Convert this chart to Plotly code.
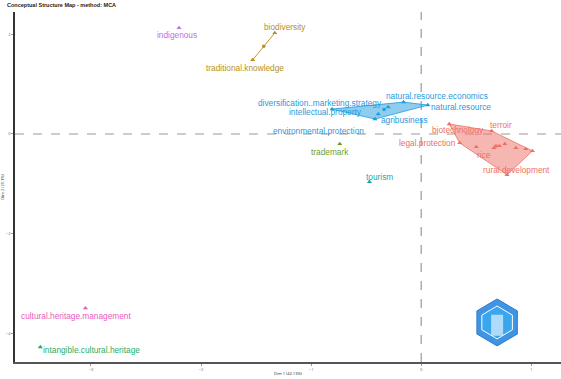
import plotly.graph_objects as go

# ---------------- data ----------------
words = [
    "diversification..marketing.strategy", "natural.resource.economics", "natural.resource",
    "agribusiness", "intellectual.property", "environmental.protection",
    "biotechnology", "terroir", "legal.protection", "rice", "rural.development",
    "", "", "", "", "", "",
    "biodiversity", "traditional.knowledge",
    "indigenous", "trademark", "tourism",
    "cultural.heritage.management", "intangible.cultural.heritage",
]
dim1 = [-0.81, -0.16, 0.06, -0.42, -0.30, -0.39,
        0.255, 0.64, 0.35, 0.50, 0.78,
        0.66, 0.71, 0.76, 0.86, 0.95, 1.01,
        -1.33, -1.53,
        -2.20, -0.74, -0.47,
        -3.05, -3.46]
dim2 = [0.50, 0.64, 0.58, 0.30, 0.54, 0.40,
        0.20, 0.06, -0.18, -0.26, -0.82,
        -0.28, -0.24, -0.20, -0.28, -0.30, -0.34,
        2.03, 1.49,
        2.13, -0.20, -0.96,
        -3.50, -4.28]
cluster = [1, 1, 1, 1, 1, 1,
           2, 2, 2, 2, 2, 2, 2, 2, 2, 2, 2,
           3, 3,
           4, 5, 6,
           7, 8]

x_ticks = [-3, -2, -1, 0, 1]
y_ticks = [-4, -2, 0, 2]
title = "Conceptual Structure Map - method: MCA"
x_title = "Dim 1 (42.13%)"
y_title = "Dim 2 (21.1%)"

# ---------------- styles ----------------
cluster_colors = {1: "#1F9BE0", 2: "#EE6F66", 3: "#B8901A", 4: "#B86FEA",
                  5: "#6FA01A", 6: "#17A9AC", 7: "#E85BBE", 8: "#1FAE66"}
# label offsets in pixels (dx right, dy down)
label_offsets = {
    "diversification..marketing.strategy": (-12, -6),
    "natural.resource.economics": (33, -6),
    "natural.resource": (33, 2),
    "agribusiness": (30, 1),
    "intellectual.property": (-63, 5),
    "environmental.protection": (-60, 17),
    "biotechnology": (9, 6),
    "terroir": (9, -6),
    "legal.protection": (-32, 0),
    "rice": (8, 8),
    "rural.development": (9, -5),
    "biodiversity": (10, -6),
    "traditional.knowledge": (-8, 8),
    "indigenous": (-2, 7),
    "trademark": (-10, 8),
    "tourism": (10, -5),
    "cultural.heritage.management": (-9, 8),
    "intangible.cultural.heritage": (51, 3),
}


def hex_rgba(h, a):
    h = h.lstrip("#")
    return "rgba(%d,%d,%d,%s)" % (int(h[0:2], 16), int(h[2:4], 16), int(h[4:6], 16), a)


def convex_hull(pts):
    pts = sorted(set(pts))
    if len(pts) <= 2:
        return pts
    def cross(o, a, b):
        return (a[0]-o[0])*(b[1]-o[1]) - (a[1]-o[1])*(b[0]-o[0])
    lower, upper = [], []
    for p in pts:
        while len(lower) >= 2 and cross(lower[-2], lower[-1], p) <= 0:
            lower.pop()
        lower.append(p)
    for p in reversed(pts):
        while len(upper) >= 2 and cross(upper[-2], upper[-1], p) <= 0:
            upper.pop()
        upper.append(p)
    return lower[:-1] + upper[:-1]


fig = go.Figure()

# reference lines
fig.add_hline(y=0, line=dict(color="#9a9a9a", width=1.2, dash="dash"), layer="below")
fig.add_vline(x=0, line=dict(color="#9a9a9a", width=1.2, dash="dash"), layer="below")

for c in sorted(set(cluster)):
    col = cluster_colors[c]
    xs = [dim1[i] for i in range(len(words)) if cluster[i] == c]
    ys = [dim2[i] for i in range(len(words)) if cluster[i] == c]
    hull = convex_hull(list(zip(xs, ys)))
    if len(hull) >= 3:
        hx = [p[0] for p in hull] + [hull[0][0]]
        hy = [p[1] for p in hull] + [hull[0][1]]
        fig.add_trace(go.Scatter(x=hx, y=hy, mode="lines", fill="toself",
                                 fillcolor=hex_rgba(col, 0.5),
                                 line=dict(color=col, width=0.8),
                                 hoverinfo="skip", showlegend=False))
    elif len(hull) == 2:
        fig.add_trace(go.Scatter(x=[p[0] for p in hull], y=[p[1] for p in hull],
                                 mode="lines", line=dict(color=col, width=0.9),
                                 hoverinfo="skip", showlegend=False))
    fig.add_trace(go.Scatter(x=xs, y=ys, mode="markers",
                             marker=dict(symbol="triangle-up", size=4.5, color=col),
                             showlegend=False))
    if len(xs) > 1:
        fig.add_trace(go.Scatter(x=[sum(xs)/len(xs)], y=[sum(ys)/len(ys)], mode="markers",
                                 marker=dict(symbol="circle", size=3.5, color=col),
                                 showlegend=False))

for i, w in enumerate(words):
    if not w:
        continue
    col = cluster_colors[cluster[i]]
    dx, dy = label_offsets[w]
    fig.add_annotation(x=dim1[i], y=dim2[i], xshift=dx, yshift=-dy, text=w,
                       showarrow=False,
                       font=dict(family="Liberation Sans, Arial", size=8.3, color=col))

# title
fig.add_annotation(xref="paper", yref="paper", x=-0.018, y=1.005, xanchor="left", yanchor="bottom",
                   text="<b>" + title + "</b>", showarrow=False,
                   font=dict(family="Liberation Sans, Arial", size=5.5, color="#222"))

# logo (decorative hexagon)
fig.add_shape(type="path", xref="paper", yref="paper",
              path="M 0.883 0.180 L 0.920 0.146 L 0.920 0.080 L 0.883 0.046 L 0.846 0.080 L 0.846 0.146 Z",
              fillcolor="#3f95e4", line=dict(color="#2f78d0", width=1))
fig.add_shape(type="path", xref="paper", yref="paper",
              path="M 0.883 0.160 L 0.911 0.134 L 0.911 0.092 L 0.883 0.066 L 0.855 0.092 L 0.855 0.134 Z",
              fillcolor="#3aa6ee", line=dict(color="white", width=1))
fig.add_shape(type="rect", xref="paper", yref="paper",
              x0=0.872, x1=0.894, y0=0.075, y1=0.135,
              fillcolor="white", line=dict(width=0), opacity=0.6)

fig.update_layout(
    width=561, height=379,
    margin=dict(l=15, r=0, t=12, b=17, autoexpand=False),
    paper_bgcolor="white", plot_bgcolor="white",
    xaxis=dict(range=[-3.69, 1.27], tickvals=x_ticks, showgrid=False, zeroline=False,
               automargin=False,
               showline=True, linecolor="#555", linewidth=1.5, ticks="outside",
               ticklen=2, tickcolor="#999", tickfont=dict(size=4, color="#666"),
               title=dict(text=x_title, font=dict(size=4, color="#222"), standoff=2)),
    yaxis=dict(range=[-4.58, 2.45], tickvals=y_ticks, showgrid=False, zeroline=False,
               automargin=False,
               showline=True, linecolor="#333", linewidth=1.5, ticks="outside",
               ticklen=2, tickcolor="#999", tickfont=dict(size=4, color="#666"),
               title=dict(text=y_title, font=dict(size=4, color="#222"), standoff=2)),
)

fig.write_html("out.html", config={"displayModeBar": False},
               post_script="document.body.style.margin='0';")
